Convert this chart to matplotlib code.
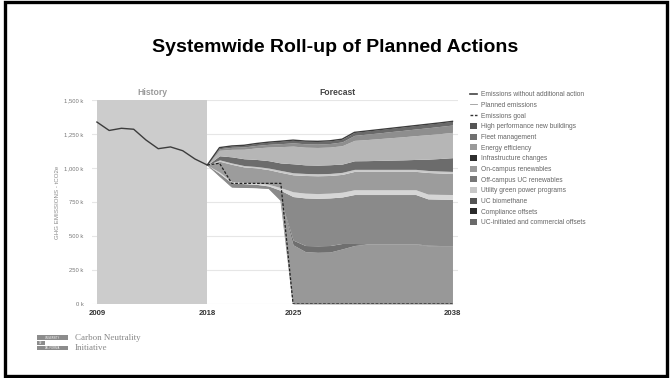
import numpy as np
import matplotlib
matplotlib.use("Agg")
import matplotlib.pyplot as plt
from matplotlib.patches import Rectangle, Patch
from matplotlib.lines import Line2D

plt.rcParams['font.family'] = ['Liberation Sans', 'DejaVu Sans']

# ---------------- data (thousand tCO2e) ----------------
hist_years = [2009, 2010, 2011, 2012, 2013, 2014, 2015, 2016, 2017, 2018]
hist_values = [1338, 1276, 1292, 1285, 1206, 1142, 1155, 1127, 1066, 1022]

years = list(range(2018, 2039))
planned = [1022, 940, 860, 857, 855, 850, 760, 0, 0, 0, 0, 0, 0, 0, 0, 0, 0, 0, 0, 0, 0]
offsets = [0, 0, 0, 0, 0, 0, 0, 435, 385, 380, 382, 405, 430, 440, 440, 440, 440, 440, 428, 427, 427]
compliance = [0, 0, 0, 0, 0, 0, 0, 35, 45, 48, 48, 40, 15, 3, 3, 3, 3, 3, 4, 3, 3]
biomethane = [0, 20, 30, 28, 25, 18, 75, 320, 350, 349, 350, 342, 360, 362, 362, 362, 362, 362, 341, 341, 340]
utility = [0, 10, 10, 10, 10, 12, 20, 35, 35, 35, 35, 35, 35, 35, 35, 35, 35, 35, 35, 35, 35]
offcampus = [0, 80, 127, 113, 111, 108, 113, 125, 130, 131, 130, 131, 135, 135, 135, 135, 135, 135, 159, 157, 155]
oncampus = [0, 10, 10, 10, 10, 12, 14, 15, 15, 15, 15, 15, 15, 15, 15, 15, 15, 15, 15, 15, 15]
infra = [0, 30, 45, 50, 52, 54, 55, 66, 63, 63, 64, 61, 63, 64, 66, 68, 70, 73, 83, 92, 101]
efficiency = [0, 40, 55, 70, 85, 100, 120, 130, 130, 130, 130, 135, 150, 155, 160, 165, 170, 175, 180, 183, 186]
fleet = [0, 12, 15, 17, 18, 20, 22, 24, 25, 25, 26, 28, 37, 40, 42, 45, 47, 49, 51, 53, 54]
hp_buildings = [0, 8, 10, 12, 14, 16, 18, 20, 20, 20, 20, 20, 22, 23, 24, 24, 25, 25, 26, 26, 27]

goal_years = [2018, 2019, 2020, 2021, 2022, 2023, 2024, 2025, 2038]
goal_values = [1022, 1035, 887, 887, 887, 887, 887, 0, 0]

line_labels = ["Emissions without additional action", "Planned emissions", "Emissions goal"]
area_labels = ["High performance new buildings", "Fleet management", "Energy efficiency",
               "Infrastructure changes", "On-campus renewables", "Off-campus UC renewables",
               "Utility green power programs", "UC biomethane", "Compliance offsets",
               "UC-initiated and commercial offsets"]
yticks = [0, 250, 500, 750, 1000, 1250, 1500]
ytick_labels = ["0 k", "250 k", "500 k", "750 k", "1,000 k", "1,250 k", "1,500 k"]
xticks = [2009, 2018, 2025, 2038]

# ---------------- styles ----------------
# stacking order bottom -> top (after the invisible planned-emissions base)
stack_series = [offsets, compliance, biomethane, utility, offcampus, oncampus,
                infra, efficiency, fleet, hp_buildings]
stack_colors = ['#989898', '#6f6f6f', '#8a8a8a', '#d6d6d6', '#9c9c9c', '#c9c9c9',
                '#6c6c6c', '#b6b6b6', '#8e8e8e', '#6a6a6a']
legend_colors = ['#555555', '#707070', '#9a9a9a', '#2e2e2e', '#9a9a9a', '#777777',
                 '#c8c8c8', '#555555', '#2a2a2a', '#6a6a6a']

W, H = 670, 378
fig = plt.figure(figsize=(W / 100, H / 100), dpi=100)
fig.patch.set_facecolor('white')

def fx(px):
    return px / W

def fy(py):
    return 1 - py / H

left, right, top, bottom = 92, 458, 100, 304
ax = fig.add_axes([fx(left), fy(bottom), fx(right) - fx(left), fy(top) - fy(bottom)])

# history shading
ax.axvspan(2009, 2018, color='#cccccc', zorder=1, lw=0)

# stacked areas
yrs = np.array(years)
lower = np.array(planned, dtype=float)
for vals, col in zip(stack_series, stack_colors):
    upper = lower + np.array(vals, dtype=float)
    ax.fill_between(yrs, lower, upper, color=col, lw=0, zorder=2)
    lower = upper
total = lower

# lines
ax.plot(hist_years, hist_values, color='#3c3c3c', lw=1.0, zorder=4)
ax.plot(yrs, total, color='#3c3c3c', lw=1.0, zorder=4)
ax.plot(yrs, planned, color='#8a8a8a', lw=0.5, zorder=4)
ax.plot(goal_years, goal_values, color='#222222', lw=0.9, ls=(0, (2.2, 1.3)), zorder=5)

ax.set_xlim(2008.6, 2038.45)
ax.set_ylim(0, 1500)
ax.set_yticks(yticks)
ax.set_yticklabels(ytick_labels)
ax.set_xticks(xticks)
ax.set_xticklabels([str(x) for x in xticks])
ax.grid(axis='y', color='#e6e6e6', lw=0.8, zorder=0)
ax.set_axisbelow(True)
for s in ax.spines.values():
    s.set_visible(False)
ax.tick_params(axis='y', length=0, labelsize=4.2, labelcolor='#777777', pad=6)
ax.tick_params(axis='x', length=0, labelsize=5.6, labelcolor='#333333', pad=4)
for t in ax.get_xticklabels():
    t.set_fontweight('bold')
ax.set_ylabel("GHG EMISSIONS - tCO2e", fontsize=4.4, color='#888888', labelpad=3)

ax.text(2013.5, 1555, "History", ha='center', va='center', fontsize=6.2,
        fontweight='bold', color='#9a9a9a')
ax.text(2028.6, 1555, "Forecast", ha='center', va='center', fontsize=6.2,
        fontweight='bold', color='#444444')

# title
fig.text(0.5, fy(47), "Systemwide Roll-up of Planned Actions", ha='center', va='center',
         fontsize=14, fontweight='bold', color='black')

# legend
handles = [Line2D([], [], color='#444444', lw=1.2),
           Line2D([], [], color='#999999', lw=0.6),
           Line2D([], [], color='#333333', lw=1.0, ls=(0, (2, 1.2)))]
handles += [Patch(facecolor=c, edgecolor='none') for c in legend_colors]
leg = fig.legend(handles, line_labels + area_labels, loc='upper left',
                 bbox_to_anchor=(fx(470), fy(91)), frameon=False, fontsize=4.8,
                 handlelength=1.1, handleheight=1.0, handletextpad=0.5,
                 labelspacing=0.51, borderpad=0, borderaxespad=0)
for t in leg.get_texts():
    t.set_color('#666666')

# logo
logo_col = '#8c8c8c'
fig.patches.append(Rectangle((fx(37), fy(340)), fx(31), 5 / H, transform=fig.transFigure,
                             facecolor=logo_col, edgecolor='none'))
fig.patches.append(Rectangle((fx(37), fy(345)), fx(8), 4 / H, transform=fig.transFigure,
                             facecolor=logo_col, edgecolor='none'))
fig.patches.append(Rectangle((fx(37), fy(350)), fx(31), 4 / H, transform=fig.transFigure,
                             facecolor=logo_col, edgecolor='none'))
fig.text(fx(52.5), fy(337.6), "UNIVERSITY", fontsize=1.8, color='white', ha='center', va='center')
fig.text(fx(41), fy(343), "OF", fontsize=1.8, color='white', ha='center', va='center')
fig.text(fx(52.5), fy(348), "CALIFORNIA", fontsize=1.8, color='white', ha='center', va='center')
fig.text(fx(75), fy(338), "Carbon Neutrality", fontsize=6.5, color='#888888',
         family=['Liberation Serif', 'DejaVu Serif'], va='center')
fig.text(fx(75), fy(348.5), "Initiative", fontsize=6.5, color='#888888',
         family=['Liberation Serif', 'DejaVu Serif'], va='center')

# frame
fig.patches.append(Rectangle((fx(5), fy(376)), fx(662), (374) / H, transform=fig.transFigure,
                             fill=False, edgecolor='black', lw=2.4))

fig.savefig("out.png", dpi=100)
